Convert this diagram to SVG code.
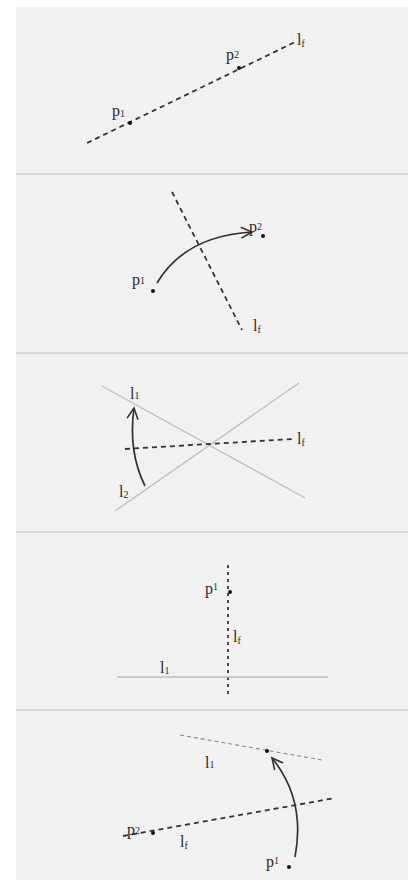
<svg xmlns="http://www.w3.org/2000/svg" width="408" height="880" viewBox="0 0 408 880">
<defs>
<style>
.bg{fill:#f1f1f1}
.sep{fill:#d9d9d9}
.dash{stroke:#333;stroke-width:1.8;stroke-dasharray:5,4;fill:none}
.dashv{stroke:#333;stroke-width:1.8;stroke-dasharray:3,4;fill:none}
.thin{stroke:#bdbdbd;stroke-width:1.3;fill:none}
.thind{stroke:#8a8a8a;stroke-width:1.1;stroke-dasharray:4,3;fill:none}
.arc{stroke:#333;stroke-width:1.7;fill:none}
.dot{fill:#111}
.lbl{font-family:"Liberation Serif","Times New Roman",serif;font-size:16px;fill:#2a2a2a}
.sub{font-size:10px}
</style>
<marker id="arr" viewBox="0 0 14 14" refX="12" refY="7" markerWidth="14" markerHeight="14" markerUnits="userSpaceOnUse" orient="auto">
<path d="M1,1.5 L12,7 L1,12.5" fill="none" stroke="#333" stroke-width="1.6"/>
</marker>
</defs>
<rect x="0" y="0" width="408" height="880" fill="#ffffff"/>
<rect class="bg" x="16" y="7" width="392" height="873"/>
<rect class="sep" x="16" y="173" width="392" height="2"/>
<rect class="sep" x="16" y="352" width="392" height="2"/>
<rect class="sep" x="16" y="531" width="392" height="2"/>
<rect class="sep" x="16" y="709" width="392" height="2"/>

<g id="connectors">
<line class="dash" x1="87" y1="143" x2="295" y2="42"/>
<line class="dash" x1="172" y1="192" x2="242" y2="330"/>
<path class="arc" d="M157,283 Q185,236 252,232" marker-end="url(#arr)"/>
<line class="thin" x1="102" y1="386" x2="305" y2="498"/>
<line class="thin" x1="115" y1="511" x2="299" y2="383"/>
<line class="dash" x1="125" y1="449" x2="293" y2="439"/>
<path class="arc" d="M145,486 Q128,452 134,408" marker-end="url(#arr)"/>
<line class="dashv" x1="228" y1="565" x2="228" y2="694"/>
<line class="thin" x1="117" y1="677" x2="328" y2="677"/>
<line class="thind" x1="180" y1="735" x2="322" y2="760"/>
<line class="dash" x1="123" y1="836" x2="335" y2="798"/>
<path class="arc" d="M295,857 Q306,800 272,758" marker-end="url(#arr)"/>
</g>

<g id="panel1">
<circle class="dot" cx="130" cy="123" r="2"/>
<circle class="dot" cx="239" cy="68" r="2"/>
<text class="lbl" x="112" y="116">p<tspan class="sub" dy="1">1</tspan></text>
<text class="lbl" x="226" y="60">p<tspan class="sub" dy="-2">2</tspan></text>
<text class="lbl" x="297" y="45">l<tspan class="sub" dy="2">f</tspan></text>
</g>

<g id="panel2">
<circle class="dot" cx="153" cy="291" r="2"/>
<circle class="dot" cx="263" cy="236" r="2"/>
<text class="lbl" x="132" y="285">p<tspan class="sub" dy="-1">1</tspan></text>
<text class="lbl" x="249" y="232">p<tspan class="sub" dy="-2">2</tspan></text>
<text class="lbl" x="253" y="331">l<tspan class="sub" dy="2">f</tspan></text>
</g>

<g id="panel3">
<text class="lbl" x="130" y="399">l<tspan class="sub" dy="0">1</tspan></text>
<text class="lbl" x="119" y="497">l<tspan class="sub" dy="1">2</tspan></text>
<text class="lbl" x="297" y="444">l<tspan class="sub" dy="2">f</tspan></text>
</g>

<g id="panel4">
<circle class="dot" cx="230" cy="592" r="2"/>
<text class="lbl" x="205" y="594">p<tspan class="sub" dy="-4">1</tspan></text>
<text class="lbl" x="233" y="642">l<tspan class="sub" dy="2">f</tspan></text>
<text class="lbl" x="160" y="673">l<tspan class="sub" dy="1">1</tspan></text>
</g>

<g id="panel5">
<circle class="dot" cx="267" cy="751" r="2"/>
<circle class="dot" cx="153" cy="833" r="2"/>
<circle class="dot" cx="289" cy="867" r="2"/>
<text class="lbl" x="205" y="768">l<tspan class="sub" dy="0">1</tspan></text>
<text class="lbl" x="127" y="835">p<tspan class="sub" dy="-1">2</tspan></text>
<text class="lbl" x="180" y="847">l<tspan class="sub" dy="2">f</tspan></text>
<text class="lbl" x="266" y="867">p<tspan class="sub" dy="-3">1</tspan></text>
</g>
</svg>
